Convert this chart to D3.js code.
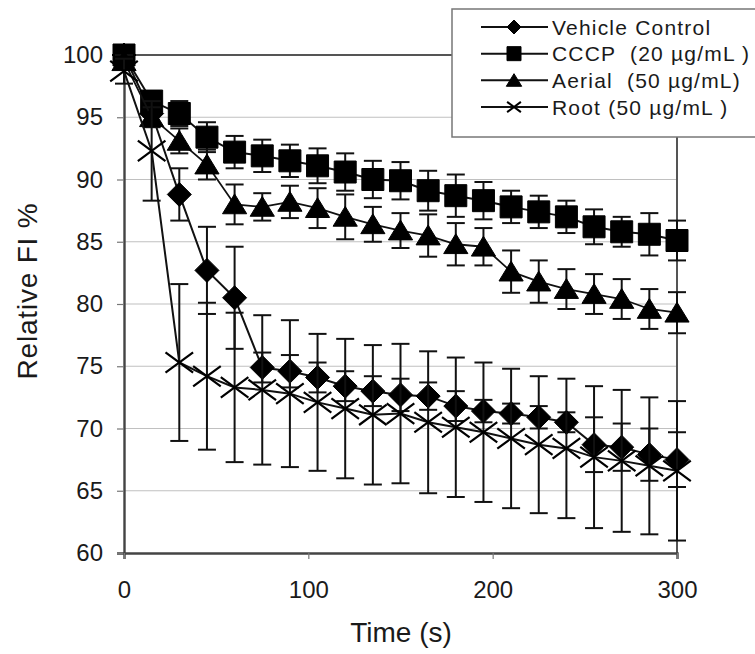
<!DOCTYPE html>
<html><head><meta charset="utf-8">
<script src="https://cdn.jsdelivr.net/npm/d3@7"></script>
<style>body{margin:0;background:#fff}svg{display:block}text{font-family:"Liberation Sans",Arial,sans-serif;fill:#1a1a1a}</style>
</head><body><svg id="c" width="755" height="654"></svg>
<script>
const times = [0,15,30,45,60,75,90,105,120,135,150,165,180,195,210,225,240,255,270,285,300];
const seriesNames = ["Vehicle Control","CCCP  (20 µg/mL )","Aerial  (50 µg/mL)","Root (50 µg/mL )"];
const seriesKeys = ["diamond","square","triangle","cross"];
const vehicle = [100,95.3,88.8,82.7,80.5,74.9,74.6,74.1,73.4,73.0,72.7,72.6,71.8,71.4,71.2,70.9,70.5,68.7,68.5,67.9,67.5];
const vehicleErr = [0,1.0,2.1,3.5,4.1,1.2,1.3,1.2,1.2,1.2,1.3,1.1,1.2,0.9,0.8,0.9,0.8,2.2,1.9,2.1,2.2];
const cccp = [100,96.3,95.3,93.4,92.2,91.9,91.5,91.1,90.6,90.0,89.9,89.1,88.7,88.3,87.8,87.4,87.0,86.2,85.8,85.6,85.1];
const cccpErr = [0.3,0.8,1.0,1.2,1.3,1.3,1.3,1.4,1.5,1.5,1.5,1.6,1.7,1.5,1.3,1.3,1.3,1.4,1.2,1.7,1.6];
const aerial = [99.5,95.0,93.1,91.2,88.0,87.8,88.2,87.7,87.0,86.4,85.9,85.5,84.8,84.6,82.6,81.8,81.2,80.8,80.4,79.6,79.3];
const aerialErr = [0.5,0.8,1.0,1.2,1.6,1.1,1.3,1.6,1.8,1.4,1.4,1.7,1.7,1.5,1.7,1.7,1.6,1.6,1.6,1.6,1.65];
const root = [98.7,92.3,75.3,74.2,73.3,73.1,72.8,72.1,71.6,71.1,71.2,70.5,70.1,69.7,69.2,68.7,68.4,67.7,67.4,67.0,66.6];
const rootErr = [1.0,4.0,6.3,5.9,6.0,6.0,5.9,5.5,5.6,5.6,5.6,5.7,5.6,5.6,5.6,5.5,5.6,5.7,5.7,5.5,5.6];
const yTicks = [60,65,70,75,80,85,90,95,100];
const xTicks = [0,100,200,300];

const svg = d3.select("#c");
const L=124,R=677,T=55,B=553;
const x = d3.scaleLinear().domain([0,300]).range([L,R]);
const y = d3.scaleLinear().domain([60,100]).range([B,T]);

svg.append("g").selectAll("line").data(yTicks.filter(v=>v>60&&v<100)).join("line")
  .attr("x1",L).attr("x2",R).attr("y1",d=>y(d)).attr("y2",d=>y(d))
  .attr("stroke","#c0c0c0").attr("stroke-width",1.2);
svg.append("line").attr("x1",L).attr("x2",R).attr("y1",T).attr("y2",T).attr("stroke","#555").attr("stroke-width",2);
svg.append("line").attr("x1",R).attr("x2",R).attr("y1",T).attr("y2",B).attr("stroke","#555").attr("stroke-width",2);

const yAxis = d3.axisLeft(y).tickValues(yTicks).tickSize(7).tickPadding(14);
const gy = svg.append("g").attr("transform",`translate(${L},0)`).call(yAxis);
const xAxis = d3.axisBottom(x).tickValues(xTicks).tickSize(6).tickPadding(22);
const gx = svg.append("g").attr("transform",`translate(0,${B})`).call(xAxis);
[gy,gx].forEach(g=>{
  g.select(".domain").attr("stroke","#444").attr("stroke-width",2.4);
  g.selectAll(".tick line").attr("stroke","#777").attr("stroke-width",1.2);
  g.selectAll(".tick text").style("font-family","'Liberation Sans',Arial,sans-serif").style("font-size","24px").attr("fill","#1a1a1a");
});

svg.append("text").attr("x",401).attr("y",642).attr("text-anchor","middle").style("font-size","28px").text("Time (s)");
svg.append("text").attr("transform","translate(37,291) rotate(-90)").attr("text-anchor","middle").style("font-size","28px").style("letter-spacing","0.8px").text("Relative FI %");

function markerPath(kind, s){
  if(kind==="diamond") return `M0,${-s}L${s},0L0,${s}L${-s},0Z`;
  if(kind==="square") return `M${-s},${-s}H${s}V${s}H${-s}Z`;
  if(kind==="triangle") return `M0,${-s*0.95}L${s*1.1},${s*0.85}L${-s*1.1},${s*0.85}Z`;
  return `M${-s*1.15},${-s*0.85}L${s*1.15},${s*0.85}M${-s*1.15},${s*0.85}L${s*1.15},${-s*0.85}`;
}
const all = [
  {vals:vehicle, err:vehicleErr, kind:"diamond", size:12, lw:2},
  {vals:cccp, err:cccpErr, kind:"square", size:11, lw:2},
  {vals:aerial, err:aerialErr, kind:"triangle", size:11, lw:1.8},
  {vals:root, err:rootErr, kind:"cross", size:12, lw:2}
];
const line = d3.line().x(d=>x(d[0])).y(d=>y(d[1]));
all.forEach(s=>{
  const g = svg.append("g");
  const pts = times.map((t,i)=>[t,s.vals[i],s.err[i]]);
  const eb = g.append("g").selectAll("g").data(pts.filter(p=>p[2]>0)).join("g").attr("stroke","#111").attr("stroke-width",2);
  eb.append("line").attr("x1",d=>x(d[0])).attr("x2",d=>x(d[0])).attr("y1",d=>y(d[1]+d[2])).attr("y2",d=>y(d[1]-d[2]));
  eb.append("line").attr("x1",d=>x(d[0])-9).attr("x2",d=>x(d[0])+9).attr("y1",d=>y(d[1]+d[2])).attr("y2",d=>y(d[1]+d[2]));
  eb.append("line").attr("x1",d=>x(d[0])-9).attr("x2",d=>x(d[0])+9).attr("y1",d=>y(d[1]-d[2])).attr("y2",d=>y(d[1]-d[2]));
  g.append("path").attr("d",line(pts)).attr("fill","none").attr("stroke","#111").attr("stroke-width",s.lw);
  g.append("g").selectAll("path").data(pts).join("path")
    .attr("transform",d=>`translate(${x(d[0])},${y(d[1])})`)
    .attr("d",markerPath(s.kind,s.size))
    .attr("fill",s.kind==="cross"?"none":"#000")
    .attr("stroke","#000").attr("stroke-width",s.kind==="cross"?2.2:1);
});

const lg = svg.append("g");
lg.append("rect").attr("x",452).attr("y",9).attr("width",320).attr("height",128).attr("fill","#fff").attr("stroke","#777").attr("stroke-width",1.5);
const rowsY = d3.scalePoint().domain(seriesNames).range([27,107]);
seriesNames.forEach((n,i)=>{
  const yy = rowsY(n);
  lg.append("line").attr("x1",481).attr("x2",548).attr("y1",yy).attr("y2",yy).attr("stroke","#111").attr("stroke-width",2);
  lg.append("path").attr("transform",`translate(514,${yy})`).attr("d",markerPath(seriesKeys[i],i===3?6:7))
    .attr("fill",seriesKeys[i]==="cross"?"none":"#000").attr("stroke","#000").attr("stroke-width",seriesKeys[i]==="cross"?2:1);
  lg.append("text").attr("x",552).attr("y",yy+7.5).attr("xml:space","preserve").style("white-space","pre")
    .style("font-size","21px").style("letter-spacing","1.2px").text(n);
});
</script></body></html>
